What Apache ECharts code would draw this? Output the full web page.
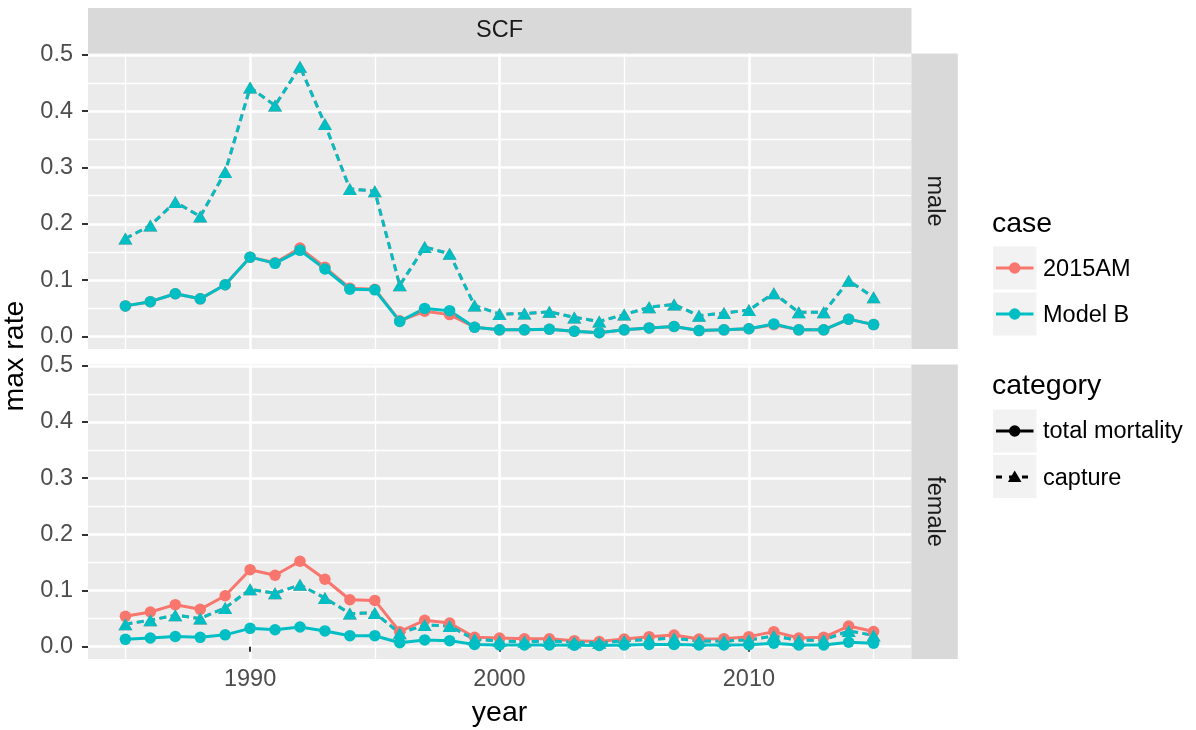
<!DOCTYPE html>
<html>
<head>
<meta charset="utf-8">
<script src="https://cdn.jsdelivr.net/npm/echarts@6/dist/echarts.min.js"></script>
<style>
html,body{margin:0;padding:0;background:#fff;}
#chart{width:1196px;height:730px;}
</style>
</head>
<body>
<div id="chart"></div>
<script>
const years = [1985,1986,1987,1988,1989,1990,1991,1992,1993,1994,1995,1996,1997,1998,1999,2000,2001,2002,2003,2004,2005,2006,2007,2008,2009,2010,2011,2012,2013,2014,2015];

const maleTotal2015AM   = [0.0545,0.062,0.076,0.067,0.092,0.141,0.131,0.157,0.123,0.086,0.084,0.028,0.045,0.039,0.0166,0.012,0.012,0.013,0.0095,0.007,0.012,0.0154,0.018,0.0107,0.012,0.014,0.021,0.012,0.012,0.031,0.0213];
const maleCapture2015AM = [0.174,0.197,0.239,0.213,0.292,0.442,0.410,0.479,0.377,0.262,0.258,0.091,0.159,0.147,0.055,0.040,0.041,0.044,0.034,0.027,0.039,0.052,0.057,0.037,0.042,0.047,0.077,0.043,0.043,0.099,0.070];
const maleTotalModelB   = [0.0545,0.062,0.076,0.067,0.092,0.141,0.130,0.153,0.120,0.084,0.083,0.027,0.050,0.046,0.0166,0.012,0.012,0.013,0.0095,0.007,0.012,0.0154,0.018,0.0107,0.012,0.014,0.0225,0.012,0.012,0.031,0.0213];
const maleCaptureModelB = [0.174,0.197,0.239,0.213,0.292,0.442,0.410,0.479,0.377,0.262,0.258,0.091,0.159,0.147,0.055,0.040,0.041,0.044,0.034,0.027,0.039,0.052,0.057,0.037,0.042,0.047,0.077,0.043,0.043,0.099,0.070];

const femaleTotal2015AM   = [0.054,0.0616,0.0747,0.0664,0.0907,0.137,0.127,0.152,0.120,0.0835,0.0823,0.0267,0.047,0.042,0.0166,0.0154,0.014,0.014,0.0107,0.009,0.0136,0.0178,0.0207,0.0136,0.0142,0.0178,0.0267,0.0154,0.0166,0.0367,0.027];
const femaleCapture2015AM = [0.040,0.047,0.056,0.050,0.069,0.102,0.095,0.110,0.0865,0.059,0.060,0.024,0.0385,0.0367,0.013,0.010,0.009,0.010,0.008,0.007,0.010,0.013,0.015,0.010,0.010,0.012,0.019,0.011,0.012,0.028,0.020];
const femaleTotalModelB   = [0.013,0.0154,0.018,0.0166,0.021,0.0326,0.030,0.035,0.028,0.0195,0.0195,0.007,0.012,0.0107,0.004,0.003,0.003,0.003,0.0025,0.002,0.003,0.004,0.004,0.003,0.003,0.0035,0.006,0.003,0.003,0.008,0.006];
const femaleCaptureModelB = [0.040,0.047,0.056,0.050,0.069,0.102,0.095,0.110,0.0865,0.059,0.060,0.024,0.0385,0.0367,0.013,0.010,0.009,0.010,0.008,0.007,0.010,0.013,0.015,0.010,0.010,0.012,0.019,0.011,0.012,0.028,0.020];

const yTicks = [0, 0.1, 0.2, 0.3, 0.4, 0.5];
const yMinorTicks = [0.05, 0.15, 0.25, 0.35, 0.45];
const xTicks = [1990, 2000, 2010];
const xMinorTicks = [1985, 1995, 2005, 2015];

const caseNames = ['2015AM', 'Model B'];
const categoryNames = ['total mortality', 'capture'];
const facetTop = 'SCF';
const facetRows = ['male', 'female'];

const COL_RED = '#F8766D', COL_CYAN = '#00BFC4';
const FONT = '"Liberation Sans", Arial, sans-serif';

const chart = echarts.init(document.getElementById('chart'), null, {renderer: 'canvas'});

const X_MIN = 1983.5, X_MAX = 2016.5, Y_MIN = -0.022, Y_MAX = 0.5023;
const grids = [
  {left: 88, width: 823, top: 53.5, height: 295.5, show: true, backgroundColor: '#EBEBEB', borderWidth: 0},
  {left: 88, width: 823, top: 364.5, height: 294.5, show: true, backgroundColor: '#EBEBEB', borderWidth: 0}
];

function xMain(gi, showLabels) {
  return {
    type: 'value', gridIndex: gi, min: X_MIN, max: X_MAX,
    axisLine: {show: false},
    axisTick: {show: showLabels, customValues: xTicks, length: 5, lineStyle: {color: '#333333', width: 2}},
    axisLabel: {show: showLabels, customValues: xTicks, margin: 9, color: '#4D4D4D', fontSize: 23.5, fontFamily: FONT,
      formatter: v => String(v)},
    splitLine: {show: true, lineStyle: {color: '#FFFFFF', width: 2.6}}
  };
}
function xMinor(gi) {
  return {
    type: 'value', gridIndex: gi, min: X_MIN, max: X_MAX,
    axisLine: {show: false},
    axisTick: {show: false, customValues: xMinorTicks},
    axisLabel: {show: false, customValues: xMinorTicks},
    splitLine: {show: true, lineStyle: {color: '#FFFFFF', width: 1.3}}
  };
}
function yMain(gi) {
  return {
    type: 'value', gridIndex: gi, min: Y_MIN, max: Y_MAX,
    axisLine: {show: false},
    axisTick: {show: true, customValues: yTicks, length: 6, lineStyle: {color: '#333333', width: 2}},
    axisLabel: {show: true, customValues: yTicks, margin: 15, color: '#4D4D4D', fontSize: 23.5, fontFamily: FONT,
      formatter: v => v.toFixed(1)},
    splitLine: {show: true, lineStyle: {color: '#FFFFFF', width: 2.6}}
  };
}
function yMinor(gi) {
  return {
    type: 'value', gridIndex: gi, min: Y_MIN, max: Y_MAX,
    axisLine: {show: false},
    axisTick: {show: false, customValues: yMinorTicks},
    axisLabel: {show: false, customValues: yMinorTicks},
    splitLine: {show: true, lineStyle: {color: '#FFFFFF', width: 1.3}}
  };
}

function mkSeries(name, values, axisIdx, color, isCapture) {
  return {
    name: name, type: 'line',
    xAxisIndex: axisIdx, yAxisIndex: axisIdx,
    data: years.map((y, i) => [y, values[i]]),
    symbol: isCapture ? 'triangle' : 'circle',
    symbolSize: isCapture ? [14, 12] : 11.5,
    showSymbol: true,
    clip: false,
    lineStyle: {color: color, width: 3, type: isCapture ? [7, 4.5] : 'solid'},
    itemStyle: {color: color, borderWidth: 0},
    emphasis: {disabled: true},
    silent: true,
    z: 3
  };
}

const series = [
  mkSeries('2015AM total male', maleTotal2015AM, 0, COL_RED, false),
  mkSeries('2015AM capture male', maleCapture2015AM, 0, COL_RED, true),
  mkSeries('Model B total male', maleTotalModelB, 0, COL_CYAN, false),
  mkSeries('Model B capture male', maleCaptureModelB, 0, COL_CYAN, true),
  mkSeries('2015AM total female', femaleTotal2015AM, 2, COL_RED, false),
  mkSeries('2015AM capture female', femaleCapture2015AM, 2, COL_RED, true),
  mkSeries('Model B total female', femaleTotalModelB, 2, COL_CYAN, false),
  mkSeries('Model B capture female', femaleCaptureModelB, 2, COL_CYAN, true)
];

function txt(text, x, y, size, color, align, rot) {
  return {
    type: 'text', x: x, y: y, rotation: rot || 0, silent: true,
    style: {text: text, font: size + 'px ' + FONT, fill: color, align: align || 'left', verticalAlign: 'middle'}
  };
}
function rect(x, y, w, h, color) {
  return {type: 'rect', silent: true, shape: {x: x, y: y, width: w, height: h}, style: {fill: color}};
}
function line(x1, y1, x2, y2, color, w, dash) {
  return {type: 'line', silent: true, shape: {x1: x1, y1: y1, x2: x2, y2: y2},
    style: {stroke: color, lineWidth: w, lineDash: dash || null}};
}

const graphics = [
  // facet strips
  rect(88, 8, 823.5, 45.5, '#D9D9D9'),
  txt(facetTop, 499.5, 31, 23.5, '#1A1A1A', 'center'),
  rect(911.3, 53.5, 46.5, 295.5, '#D9D9D9'),
  txt(facetRows[0], 934.5, 201, 23.5, '#1A1A1A', 'center', -Math.PI / 2),
  rect(911.3, 364.5, 46.5, 294.5, '#D9D9D9'),
  txt(facetRows[1], 934.5, 511.5, 23.5, '#1A1A1A', 'center', -Math.PI / 2),
  // axis titles
  txt('year', 499.5, 713, 28.5, '#000000', 'center'),
  txt('max rate', 15, 356, 28.5, '#000000', 'center', Math.PI / 2),
  // legend: case
  txt('case', 992, 224.5, 28.5, '#000000', 'left'),
  rect(993, 246.5, 43.5, 43, '#F2F2F2'),
  rect(993, 292.5, 43.5, 43, '#F2F2F2'),
  line(996, 268, 1033.5, 268, COL_RED, 3),
  {type: 'circle', silent: true, shape: {cx: 1014.7, cy: 268, r: 5.7}, style: {fill: COL_RED}},
  line(996, 314, 1033.5, 314, COL_CYAN, 3),
  {type: 'circle', silent: true, shape: {cx: 1014.7, cy: 314, r: 5.7}, style: {fill: COL_CYAN}},
  txt(caseNames[0], 1043, 269.5, 23.5, '#000000', 'left'),
  txt(caseNames[1], 1043, 315.5, 23.5, '#000000', 'left'),
  // legend: category
  txt('category', 992, 386.5, 28.5, '#000000', 'left'),
  rect(993, 409.5, 43.5, 43, '#F2F2F2'),
  rect(993, 455, 43.5, 43, '#F2F2F2'),
  line(996, 431, 1033.5, 431, '#000000', 3),
  {type: 'circle', silent: true, shape: {cx: 1014.7, cy: 431, r: 5.7}, style: {fill: '#000000'}},
  line(996, 477, 1033.5, 477, '#000000', 3, [6, 7]),
  {type: 'polygon', silent: true, shape: {points: [[1014.7, 470.5], [1021.5, 482], [1007.9, 482]]}, style: {fill: '#000000'}},
  txt(categoryNames[0], 1043, 431.5, 23.5, '#000000', 'left'),
  txt(categoryNames[1], 1043, 478.5, 23.5, '#000000', 'left')
];

chart.setOption({
  animation: false,
  backgroundColor: '#FFFFFF',
  grid: grids,
  xAxis: [xMain(0, false), xMinor(0), xMain(1, true), xMinor(1)],
  yAxis: [yMain(0), yMinor(0), yMain(1), yMinor(1)],
  series: series,
  graphic: graphics
});
</script>
</body>
</html>
